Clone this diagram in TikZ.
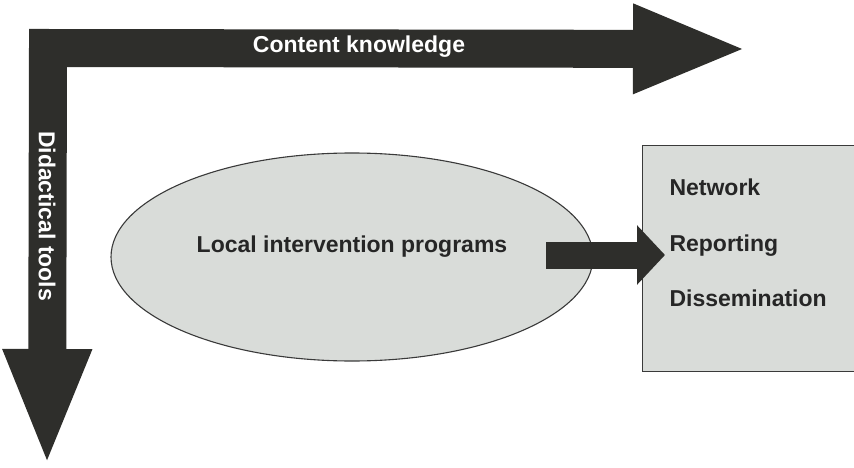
\documentclass[tikz,border=0pt]{standalone}
\usepackage{fontspec}
\setmainfont{Liberation Sans}
\usetikzlibrary{shapes.geometric,arrows.meta}
\definecolor{arrowdark}{HTML}{2E2E2B}
\definecolor{paleface}{HTML}{D9DCD9}
\definecolor{rimgray}{HTML}{3A3A3A}
\tikzset{
  labeltext/.style={font=\bfseries\fontsize{23}{27}\selectfont},
  panel/.style={fill=paleface,draw=rimgray,line width=1.1pt},
}
\begin{document}
\begin{tikzpicture}[x=1pt,y=-1pt]
\useasboundingbox (0,0) rectangle (854,468);
%big elbow arrow
\coordinate (corner) at (48,48);
\coordinate (cktip) at (748,49);
\coordinate (dttip) at (47,467);
\draw[arrowdark,line width=38pt,line join=miter,
  {Triangle[width=80pt,length=118pt]}-{Triangle[width=81pt,length=115pt]}]
  (dttip) -- (corner) -- (cktip);
\node[labeltext,text=white] (ck) at (359,47) {Content knowledge};
\node[labeltext,text=white,rotate=-90] (dt) at (47,216) {Didactical tools};
%ellipse and box
\node[panel,ellipse,minimum width=482pt,minimum height=208pt] (prog) at (352,257) {};
\node[labeltext,text=black!85] (progtxt) at (352,247) {Local intervention programs};
\node[panel,rectangle,anchor=north west,minimum width=230pt,minimum height=226pt] (out) at (642,145) {};
\node[labeltext,text=black!85,anchor=base west] (net) at (666,195) {Network};
\node[labeltext,text=black!85,anchor=base west] (rep) at (666,251) {Reporting};
\node[labeltext,text=black!85,anchor=base west] (dis) at (666,306) {Dissemination};
%small arrow
\coordinate (from) at (546,255);
\coordinate (to) at (665,255);
\draw[arrowdark,line width=27pt,-{Triangle[width=58pt,length=28pt]}] (from) -- (to);
\end{tikzpicture}
\end{document}
